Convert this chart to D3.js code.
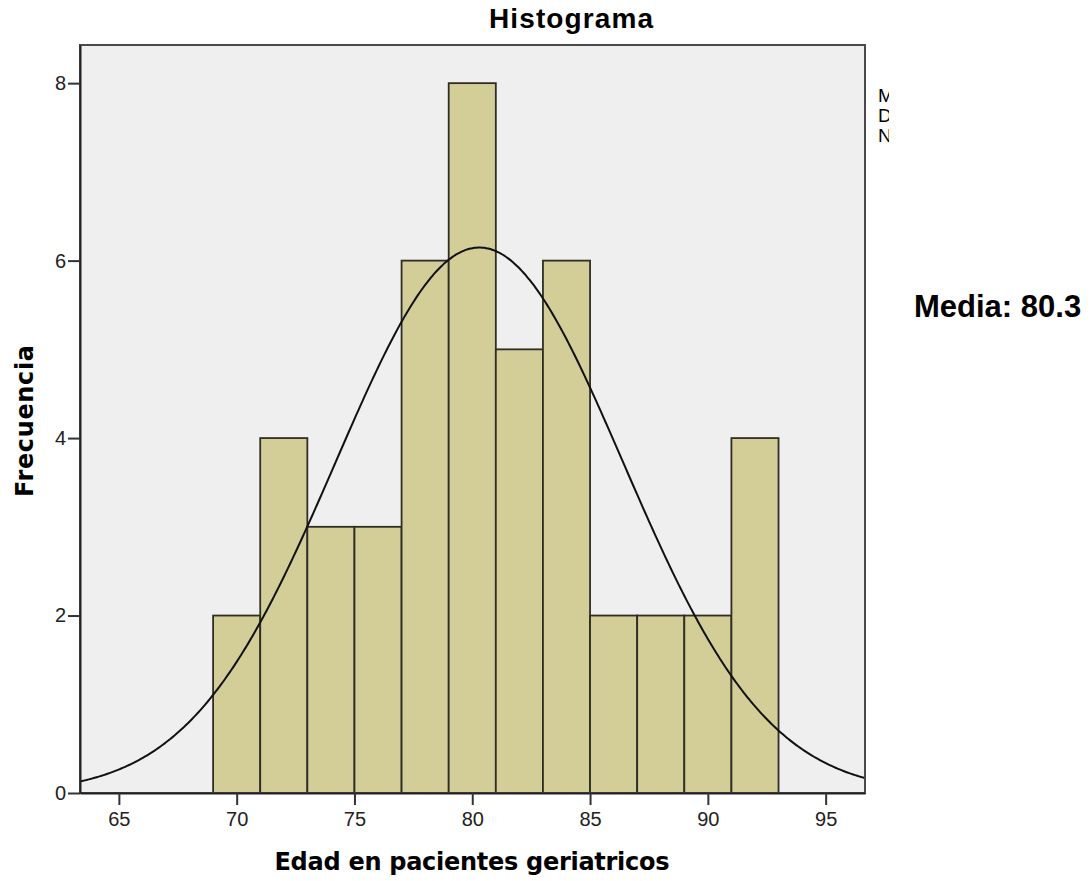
<!DOCTYPE html>
<html>
<head>
<meta charset="utf-8">
<script src="https://cdn.jsdelivr.net/npm/d3@7"></script>
<style>
  body { margin: 0; background: #fff; }
  text { font-family: "DejaVu Sans", sans-serif; }
</style>
</head>
<body>
<div id="chart"></div>
<script>
// Histogram bins (left edge of each bin, width 2 years) and frequencies
const binStarts = [69, 71, 73, 75, 77, 79, 81, 83, 85, 87, 89, 91];
const counts = [2, 4, 3, 3, 6, 8, 5, 6, 2, 2, 2, 4];
const binWidth = 2;
// Fit statistics shown by the normal curve
const mean = 80.3;
const stdDev = 6.1;
const nTotal = 47;
const xTicks = [65, 70, 75, 80, 85, 90, 95];
const yTicks = [0, 2, 4, 6, 8];
const legendLines = ["Media", "Desviación estándar", "N"];

const margin = { top: 45, left: 80 },
      width = 785,
      height = 748;

const svg = d3.select("#chart")
  .append("svg")
  .attr("width", 1091)
  .attr("height", 881);

const g = svg.append("g")
  .attr("transform", `translate(${margin.left},${margin.top})`);

// Scales
const x = d3.scaleLinear()
  .domain([63.35, 96.67])
  .range([0, width]);

const y = d3.scaleLinear()
  .domain([0, 8.43])
  .range([height, 0]);

// Plot background
g.append("rect")
  .attr("width", width)
  .attr("height", height)
  .attr("fill", "#efefef");

// Bars
const bins = binStarts.map((b, i) => ({ x0: b, x1: b + binWidth, count: counts[i] }));
g.selectAll(".bar")
  .data(bins)
  .enter()
  .append("rect")
  .attr("class", "bar")
  .attr("x", d => x(d.x0))
  .attr("y", d => y(d.count))
  .attr("width", d => x(d.x1) - x(d.x0))
  .attr("height", d => height - y(d.count))
  .attr("fill", "#d3ce98")
  .attr("stroke", "#2f2e24")
  .attr("stroke-width", 1.8);

// Normal curve scaled to counts
const scale = nTotal * binWidth / (stdDev * Math.sqrt(2 * Math.PI));
const curveX = d3.range(0, 401).map(i => 63.35 + (96.67 - 63.35) * i / 400);
const line = d3.line()
  .x(d => x(d))
  .y(d => y(scale * Math.exp(-0.5 * Math.pow((d - mean) / stdDev, 2))))
  .curve(d3.curveBasis);

g.append("path")
  .datum(curveX)
  .attr("d", line)
  .attr("fill", "none")
  .attr("stroke", "#111")
  .attr("stroke-width", 2);

// Frame
g.append("rect")
  .attr("width", width)
  .attr("height", height)
  .attr("fill", "none")
  .attr("stroke", "#4a4a4a")
  .attr("stroke-width", 2);

// Axes
const xAxis = g.append("g")
  .attr("transform", `translate(0,${height})`)
  .call(d3.axisBottom(x).tickValues(xTicks).tickSize(12).tickPadding(7).tickSizeOuter(0));

const yAxis = g.append("g")
  .call(d3.axisLeft(y).tickValues(yTicks).tickSize(12).tickPadding(2).tickSizeOuter(0));

[xAxis, yAxis].forEach(a => {
  a.select(".domain").attr("stroke", "#222").attr("stroke-width", 2);
  a.selectAll(".tick line").attr("stroke", "#333").attr("stroke-width", 2);
  a.selectAll(".tick text")
    .attr("fill", "#222")
    .style("font-family", "Liberation Sans, Arial, sans-serif")
    .style("font-size", "20px");
});

// Title
svg.append("text")
  .attr("x", 571)
  .attr("y", 28)
  .attr("text-anchor", "middle")
  .attr("textLength", 164)
  .style("font-family", "Liberation Sans, Arial, sans-serif")
  .style("font-size", "28px")
  .style("font-weight", "bold")
  .text("Histograma");

// Axis titles
svg.append("text")
  .attr("x", 472)
  .attr("y", 870)
  .attr("text-anchor", "middle")
  .attr("textLength", 395)
  .style("font-size", "24px")
  .style("font-weight", "bold")
  .text("Edad en pacientes geriatricos");

svg.append("text")
  .attr("transform", "translate(33,421) rotate(-90)")
  .attr("text-anchor", "middle")
  .attr("textLength", 152)
  .style("font-size", "24px")
  .style("font-weight", "bold")
  .text("Frecuencia");

// Clipped legend text on the right
svg.append("clipPath")
  .attr("id", "legclip")
  .append("rect")
  .attr("x", 870)
  .attr("y", 70)
  .attr("width", 19)
  .attr("height", 90);

svg.append("g")
  .attr("clip-path", "url(#legclip)")
  .selectAll("text")
  .data(legendLines)
  .enter()
  .append("text")
  .attr("x", 878)
  .attr("y", (d, i) => 102 + i * 20)
  .style("font-family", "Liberation Sans, Arial, sans-serif")
  .style("font-size", "19px")
  .text(d => d);

// Mean annotation
svg.append("text")
  .attr("x", 914)
  .attr("y", 317)
  .style("font-family", "Liberation Sans, Arial, sans-serif")
  .style("font-size", "31px")
  .style("font-weight", "bold")
  .text("Media: 80.3");
</script>
</body>
</html>
